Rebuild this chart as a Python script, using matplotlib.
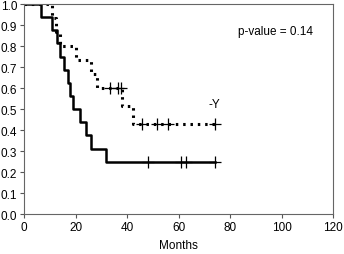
import numpy as np
import matplotlib
matplotlib.use("Agg")
import matplotlib.pyplot as plt

plt.rcParams['font.family'] = ['Liberation Sans', 'DejaVu Sans']

# solid curve (step times / survival)
solid_t = [0, 6.5, 11, 12.7, 14, 15.7, 17, 18, 19, 21.7, 24, 26, 32, 74]
solid_s = [1.0, 0.9375, 0.875, 0.8125, 0.75, 0.6875, 0.625, 0.5625, 0.5,
           0.4375, 0.375, 0.3125, 0.25, 0.25]
solid_cens_t = [48, 61, 63, 74]
solid_cens_s = [0.25, 0.25, 0.25, 0.25]

# dotted curve
dot_t = [0, 10.8, 12.4, 14, 20.2, 26, 28.2, 38, 42.5, 74]
dot_s = [1.0, 0.933, 0.867, 0.8, 0.733, 0.667, 0.6, 0.514, 0.429, 0.429]
dot_cens_t = [33.5, 36.5, 37.5, 46, 51.5, 56, 74]
dot_cens_s = [0.6, 0.6, 0.6, 0.429, 0.429, 0.429, 0.429]

fig = plt.figure(figsize=(3.44, 2.55), dpi=100)
ax = fig.add_axes([0.070, 0.156, 0.898, 0.824])

ax.step(dot_t, dot_s, where='post', color='black', lw=2.2,
        linestyle=(0, (0.8, 1.6)))
ax.step(solid_t, solid_s, where='post', color='black', lw=1.8)
ax.plot(solid_cens_t, solid_cens_s, '+', color='black', ms=8, mew=0.9)
ax.plot(dot_cens_t, dot_cens_s, '+', color='black', ms=8, mew=0.9)

ax.text(74, 0.525, '-Y', fontsize=8.5, ha='center', va='center')
ax.text(97.5, 0.87, 'p-value = 0.14', fontsize=8.5, ha='center', va='center')

ax.set_xlim(0, 120)
ax.set_ylim(0, 1.0)
ax.set_xticks(np.arange(0, 121, 20))
ax.set_yticks(np.arange(0, 1.01, 0.1))
ax.set_yticklabels(['%.1f' % v for v in np.arange(0, 1.01, 0.1)])
ax.tick_params(labelsize=8.5, length=3, width=0.8, color='#555555', pad=2)
ax.set_xlabel('Months', fontsize=8.5, labelpad=4)

for sp in ax.spines.values():
    sp.set_color('#666666')
    sp.set_linewidth(0.8)

fig.savefig('out.png', dpi=100)
